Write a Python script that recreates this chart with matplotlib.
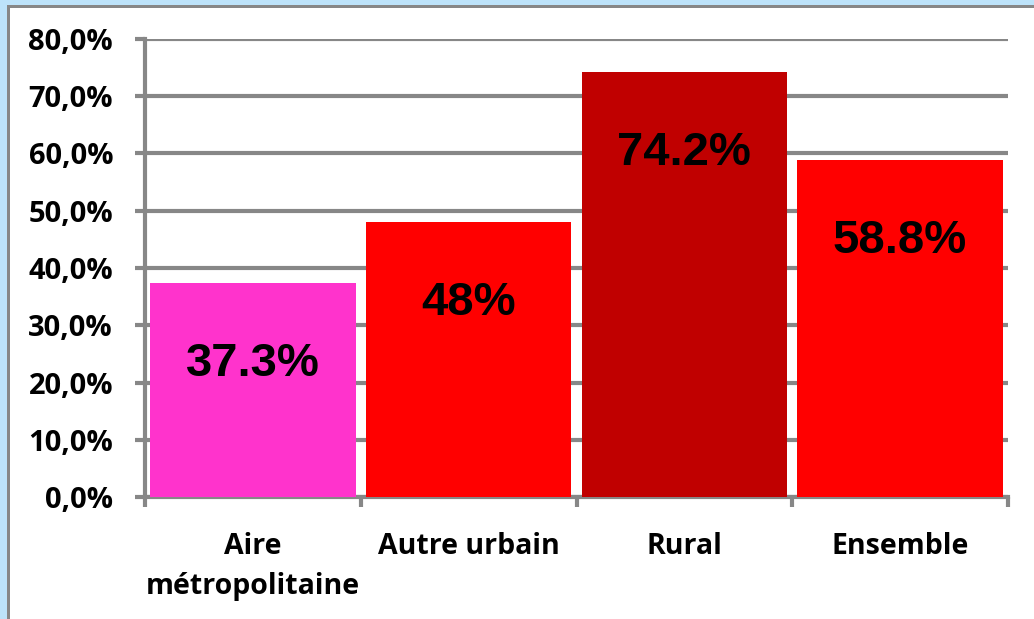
import numpy as np
import matplotlib.pyplot as plt
from matplotlib.patches import Rectangle
from matplotlib.ticker import FuncFormatter

categories = ['Aire\nmétropolitaine', 'Autre urbain', 'Rural', 'Ensemble']
values = [37.3, 48.0, 74.2, 58.8]
labels = ['37.3%', '48%', '74.2%', '58.8%']
colors = ['#FF33CC', '#FF0000', '#C00000', '#FF0000']

grid_col = '#878787'

fig = plt.figure(figsize=(10.34, 6.19), dpi=100)
ax = fig.add_axes([145 / 1034, 1 - 497 / 619, 863 / 1034, 458 / 619])

# cadre autour du graphique
fig.patches.append(Rectangle((0, 1 - 5 / 619), 1, 5 / 619, transform=fig.transFigure,
                             facecolor='#BDE3FA', edgecolor='none', zorder=0))
fig.patches.append(Rectangle((0, 0), 7 / 1034, 1, transform=fig.transFigure,
                             facecolor='#BDE3FA', edgecolor='none', zorder=0))
fig.patches.append(Rectangle((7 / 1034, 0), 3 / 1034, 1 - 5 / 619, transform=fig.transFigure,
                             facecolor=grid_col, edgecolor='none', zorder=1))
fig.patches.append(Rectangle((7 / 1034, 1 - 8 / 619), 1, 3 / 619, transform=fig.transFigure,
                             facecolor=grid_col, edgecolor='none', zorder=1))

x = np.arange(len(categories))
bars = ax.bar(x, values, width=0.953, color=colors, zorder=3)

for xi, v, lab in zip(x, values, labels):
    ax.annotate(lab, (xi, v), xytext=(0, -58), textcoords='offset points',
                ha='center', va='center', fontsize=34, fontweight='bold',
                family='Liberation Sans', color='black', zorder=4)

ax.set_xlim(-0.5, len(categories) - 0.5)
ax.set_ylim(0, 80)
ax.set_yticks(np.arange(0, 81, 10))
ax.yaxis.set_major_formatter(FuncFormatter(lambda v, p: f'{v:.1f}%'.replace('.', ',')))
ax.yaxis.grid(True, color=grid_col, linewidth=3, zorder=1)
ax.set_axisbelow(True)

ax.set_xticks(x)
ax.set_xticklabels(categories, fontsize=20.5, fontweight='bold', family='Open Sans',
                   linespacing=1.5)
ax.set_xticks(np.arange(-0.5, len(categories)), minor=True)
ax.tick_params(axis='x', which='major', length=0, pad=25)
ax.tick_params(axis='x', which='minor', length=7, width=3, color=grid_col)
ax.tick_params(axis='y', length=7, width=3, color=grid_col, pad=16)
for t in ax.get_yticklabels():
    t.set_fontsize(21)
    t.set_fontweight('bold')
    t.set_family('Open Sans')

for s in ['top', 'right']:
    ax.spines[s].set_visible(False)
for s in ['left', 'bottom']:
    ax.spines[s].set_color(grid_col)
    ax.spines[s].set_linewidth(3)

fig.savefig('out.png', dpi=100)
